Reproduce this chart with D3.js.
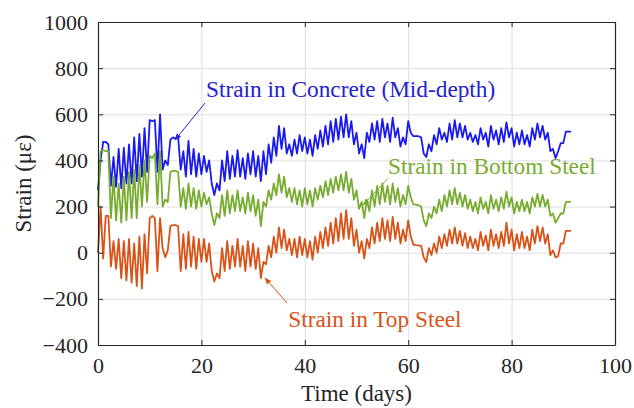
<html>
<head>
<script src="https://d3js.org/d3.v7.min.js"></script>
<style>
  body { margin: 0; background: #fff; }
  .grid line { stroke: #dedede; }
  .grid .domain { stroke: none; }
  text { font-family: "Liberation Serif", "Times New Roman", serif; }
</style>
</head>
<body>
<svg id="chart" width="634" height="408"></svg>
<script>
// readings every half day, starting at day 0
const sampleStep = 0.5;

const concrete = [
  270,400,480,480,470,290,415,285,450,280,455,300,470,300,500,310,515,330,540,350,
  575,570,575,350,600,360,400,380,490,500,495,500,360,440,330,485,340,450,330,430,
  340,420,350,400,300,250,300,270,400,310,440,320,420,330,445,330,410,320,430,340,
  440,330,420,310,440,340,470,390,500,420,550,450,540,430,470,420,490,430,510,440,
  500,430,490,420,510,450,530,460,550,470,570,480,580,490,590,500,600,500,570,470,
  520,430,470,410,520,480,560,490,570,480,580,500,560,480,585,500,540,460,500,470,
  570,520,505,505,505,500,430,415,470,440,510,470,540,490,520,480,560,490,575,500,
  560,500,550,490,520,480,510,470,540,490,520,460,550,490,530,470,540,480,565,500,
  540,460,520,470,530,470,510,460,540,490,560,500,550,490,520,440,450,410,440,475,
  475,525,525,525
];

const bottomSteel = [
  200,440,445,440,440,150,330,140,300,130,330,140,350,150,360,150,380,200,400,220,
  420,410,430,210,440,200,230,220,350,355,355,350,200,280,190,300,200,280,190,270,
  200,260,210,240,170,120,170,150,250,160,270,170,250,180,270,180,240,170,260,180,
  250,160,230,115,220,200,270,230,300,250,340,260,330,240,280,220,280,210,270,200,
  280,210,270,200,280,230,290,240,310,250,320,260,330,270,340,270,350,260,320,230,
  270,190,220,150,230,180,270,200,290,210,300,220,290,210,300,220,280,200,250,210,
  290,240,210,208,206,200,140,115,170,150,200,170,230,180,250,200,270,210,280,210,
  260,200,250,190,230,180,220,170,240,190,220,170,250,190,230,180,240,190,265,200,
  240,170,220,180,230,180,220,170,240,200,255,200,250,200,230,160,170,130,150,170,
  170,220,220,220
];

const topSteel = [
  0,200,-25,160,160,-60,50,-70,60,-110,50,-120,60,-130,40,-145,70,-155,80,-90,
  150,160,150,-80,150,20,-20,10,115,120,120,115,-80,80,-70,90,-60,70,-70,60,
  -40,60,-40,40,-80,-125,-90,-110,20,-80,50,-70,30,-60,60,-60,30,-80,50,-60,
  40,-70,20,-110,-40,-50,30,-20,70,0,110,20,100,10,60,-10,60,-20,70,-10,
  60,-20,50,-30,70,0,90,20,110,30,130,40,150,50,170,60,185,60,150,30,
  100,0,50,-25,60,20,110,40,130,50,150,60,140,50,155,60,130,40,100,50,
  140,70,35,33,32,30,-20,-40,20,-10,40,0,70,20,80,30,100,40,110,40,
  95,30,85,20,70,20,60,10,90,30,75,10,100,30,80,20,90,30,130,40,
  100,10,80,20,90,20,70,10,100,40,115,50,110,40,80,-10,10,-20,-15,40,
  40,95,95,95
];

const xTicks = [0, 20, 40, 60, 80, 100];
const yTicks = [-400, -200, 0, 200, 400, 600, 800, 1000];

const svg = d3.select("#chart");
const margin = {top: 22, right: 19, bottom: 63, left: 98};
const w = 634 - margin.left - margin.right;
const h = 408 - margin.top - margin.bottom;
const serif = '"Liberation Serif", "Times New Roman", serif';

const x = d3.scaleLinear().domain([0, 100]).range([0, w]);
const y = d3.scaleLinear().domain([-400, 1000]).range([h, 0]);

const g = svg.append("g").attr("transform", `translate(${margin.left},${margin.top})`);

// gridlines
g.append("g").attr("class", "grid")
  .call(d3.axisLeft(y).tickValues(yTicks).tickSize(-w).tickFormat(""));
g.append("g").attr("class", "grid")
  .attr("transform", `translate(0,${h})`)
  .call(d3.axisBottom(x).tickValues(xTicks).tickSize(-h).tickFormat(""));

// series
const series = [
  {data: concrete, color: "#1a1aee"},
  {data: bottomSteel, color: "#77ac30"},
  {data: topSteel, color: "#d95319"}
];
const line = d3.line().x((d, i) => x(i * sampleStep)).y(d => y(d));
series.forEach(s => {
  g.append("path").datum(s.data)
    .attr("fill", "none")
    .attr("stroke", s.color)
    .attr("stroke-width", 1.8)
    .attr("stroke-linejoin", "round")
    .attr("d", line);
});

// axes (box with inward ticks)
const axisColor = "#262626";
const leftAxis = g.append("g")
  .call(d3.axisLeft(y).tickValues(yTicks).tickFormat(d3.format("d")).tickSizeInner(-5).tickSizeOuter(0).tickPadding(10));
const bottomAxis = g.append("g").attr("transform", `translate(0,${h})`)
  .call(d3.axisBottom(x).tickValues(xTicks).tickFormat(d3.format("d")).tickSizeInner(-5).tickSizeOuter(0).tickPadding(12));
const rightAxis = g.append("g").attr("transform", `translate(${w},0)`)
  .call(d3.axisRight(y).tickValues(yTicks).tickSizeInner(-5).tickSizeOuter(0).tickFormat(""));
const topAxis = g.append("g")
  .call(d3.axisTop(x).tickValues(xTicks).tickSizeInner(-5).tickSizeOuter(0).tickFormat(""));
[leftAxis, bottomAxis, rightAxis, topAxis].forEach(a => {
  a.attr("font-family", serif).attr("font-size", 22);
  a.selectAll(".domain").attr("stroke", axisColor).attr("stroke-width", 1.2);
  a.selectAll(".tick line").attr("stroke", axisColor);
  a.selectAll("text").attr("fill", axisColor);
});

// axis titles
svg.append("text")
  .attr("x", margin.left + w / 2).attr("y", 401)
  .attr("text-anchor", "middle").attr("fill", axisColor)
  .attr("font-family", serif).attr("font-size", 23).text("Time (days)");
svg.append("text")
  .attr("transform", `translate(31,${margin.top + h / 2}) rotate(-90)`)
  .attr("text-anchor", "middle").attr("fill", axisColor)
  .attr("font-family", serif).attr("font-size", 23).text("Strain (με)");

// annotations: text anchor, arrow start and arrow tip in data units
const notes = [
  {label: "Strain in Concrete (Mid-depth)", color: "#2323d0", tx: 20.9, ty: 675, ax: [20.7, 649], bx: [14.9, 489]},
  {label: "Strain in Bottom Steel", color: "#77ac30", tx: 56.1, ty: 341, ax: [56.1, 322], bx: [51.3, 207]},
  {label: "Strain in Top Steel", color: "#d95319", tx: 36.8, ty: -322, ax: [36.6, -218], bx: [32.3, -110]}
];
svg.append("defs").selectAll("marker").data(notes).join("marker")
  .attr("id", (d, i) => "arr" + i)
  .attr("viewBox", "0 0 10 10").attr("refX", 9).attr("refY", 5)
  .attr("markerWidth", 7).attr("markerHeight", 7).attr("orient", "auto")
  .append("path").attr("d", "M0,1 L10,5 L0,9 Z").attr("fill", d => d.color);

notes.forEach((n, i) => {
  g.append("text")
    .attr("x", x(n.tx)).attr("y", y(n.ty))
    .attr("fill", n.color)
    .attr("font-family", serif).attr("font-size", 23.3)
    .text(n.label);
  g.append("line")
    .attr("x1", x(n.ax[0])).attr("y1", y(n.ax[1]))
    .attr("x2", x(n.bx[0])).attr("y2", y(n.bx[1]))
    .attr("stroke", n.color).attr("stroke-width", 1)
    .attr("marker-end", `url(#arr${i})`);
});
</script>
</body>
</html>
